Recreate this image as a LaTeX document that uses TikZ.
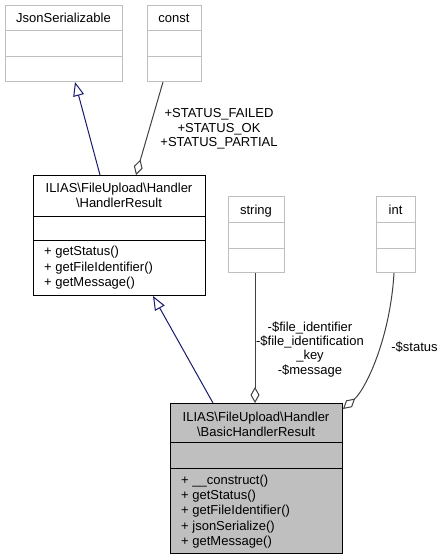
\documentclass[tikz,border=0pt]{standalone}
\usepackage{fontspec}
\setmainfont{Liberation Sans}
\usetikzlibrary{arrows.meta,calc}
\definecolor{inhcol}{HTML}{191970}
\definecolor{usecol}{HTML}{404040}
\definecolor{extcol}{HTML}{BFBFBF}
\definecolor{fillcol}{HTML}{BFBFBF}
\begin{document}
\begin{tikzpicture}[x=1pt,y=-1pt,
  boxtext/.style={font=\fontsize{13}{15.3}\selectfont,inner sep=0pt},
  labtext/.style={font=\fontsize{13}{14.4}\selectfont,inner sep=0pt,align=center,anchor=north},
  extbox/.style={draw=extcol,line width=1pt,anchor=north west,inner sep=0pt},
  mainbox/.style={draw=black,line width=1pt,anchor=north west,inner sep=0pt},
  inh/.style={draw=inhcol,line width=1pt,-{Triangle[open,fill=white,length=14pt,width=11pt]}},
  use/.style={draw=usecol,line width=1pt,{Diamond[open,fill=white,length=16pt,width=9pt]}-},
]
\useasboundingbox (0,0) rectangle (444,559);

% JsonSerializable
\node[extbox,minimum width=117pt,minimum height=76pt] (json) at (5,5) {};
\draw[extcol,line width=1pt] ([yshift=-26pt]json.north west) -- ([yshift=-26pt]json.north east);
\draw[extcol,line width=1pt] ([yshift=-52pt]json.north west) -- ([yshift=-52pt]json.north east);
\node[boxtext,anchor=base] (jsont) at (63.5,23) {JsonSerializable};

% const
\node[extbox,minimum width=54pt,minimum height=76pt] (cst) at (147,5) {};
\draw[extcol,line width=1pt] ([yshift=-26pt]cst.north west) -- ([yshift=-26pt]cst.north east);
\draw[extcol,line width=1pt] ([yshift=-52pt]cst.north west) -- ([yshift=-52pt]cst.north east);
\node[boxtext,anchor=base] (cstt) at (174,23) {const};

% HandlerResult
\node[mainbox,fill=white,minimum width=172pt,minimum height=120pt] (hr) at (33,175) {};
\draw[black,line width=1pt] ([yshift=-41pt]hr.north west) -- ([yshift=-41pt]hr.north east);
\draw[black,line width=1pt] ([yshift=-65pt]hr.north west) -- ([yshift=-65pt]hr.north east);
\node[boxtext,align=center,anchor=north] (hrt) at (119,181.3) {\strut ILIAS\textbackslash FileUpload\textbackslash Handler\\\strut\textbackslash HandlerResult};
\node[boxtext,align=left,anchor=north west] (hrm) at (44,244.8) {\strut + getStatus()\\\strut + getFileIdentifier()\\\strut + getMessage()};

% string
\node[extbox,minimum width=56pt,minimum height=76pt] (str) at (228,196) {};
\draw[extcol,line width=1pt] ([yshift=-26pt]str.north west) -- ([yshift=-26pt]str.north east);
\draw[extcol,line width=1pt] ([yshift=-52pt]str.north west) -- ([yshift=-52pt]str.north east);
\node[boxtext,anchor=base] (strt) at (256,214) {string};

% int
\node[extbox,minimum width=39pt,minimum height=76pt] (int) at (376,196) {};
\draw[extcol,line width=1pt] ([yshift=-26pt]int.north west) -- ([yshift=-26pt]int.north east);
\draw[extcol,line width=1pt] ([yshift=-52pt]int.north west) -- ([yshift=-52pt]int.north east);
\node[boxtext,anchor=base] (intt) at (395.5,214) {int};

% BasicHandlerResult
\node[mainbox,fill=fillcol,minimum width=172pt,minimum height=150pt] (basic) at (170,403) {};
\draw[black,line width=1pt] ([yshift=-39pt]basic.north west) -- ([yshift=-39pt]basic.north east);
\draw[black,line width=1pt] ([yshift=-65pt]basic.north west) -- ([yshift=-65pt]basic.north east);
\node[boxtext,align=center,anchor=north] (basict) at (256,410.3) {\strut ILIAS\textbackslash FileUpload\textbackslash Handler\\\strut\textbackslash BasicHandlerResult};
\node[boxtext,align=left,anchor=north west] (basicm) at (181,473.3) {\strut + \_\_construct()\\\strut + getStatus()\\\strut + getFileIdentifier()\\\strut + jsonSerialize()\\\strut + getMessage()};

% connectors
\draw[inh] ($(hr.north west)+(67,0)$) -- ($(json.south west)+(70,0)$);
\draw[use] ($(hr.north west)+(103,0)$) -- ($(cst.south west)+(16,0)$);
\draw[inh] ($(basic.north west)+(43,0)$) -- ($(hr.south west)+(120,0)$);
\draw[use] ($(basic.north west)+(85,0)$) -- ($(str.south west)+(27,0)$);
\draw[use] ($(basic.north east)+(0,6)$) .. controls (365,390) and (390,340) .. ($(int.south west)+(18,0)$);

% labels
\node[labtext] (lconst) at (219,107.4) {\strut +STATUS\_FAILED\\\strut +STATUS\_OK\\\strut +STATUS\_PARTIAL};
\node[labtext] (lstr) at (310,320.9) {\strut -\$file\_identifier\\\strut -\$file\_identification\\\strut \_key\\\strut -\$message};
\node[boxtext,anchor=base] (lint) at (414.5,351) {-\$status};
\end{tikzpicture}
\end{document}
